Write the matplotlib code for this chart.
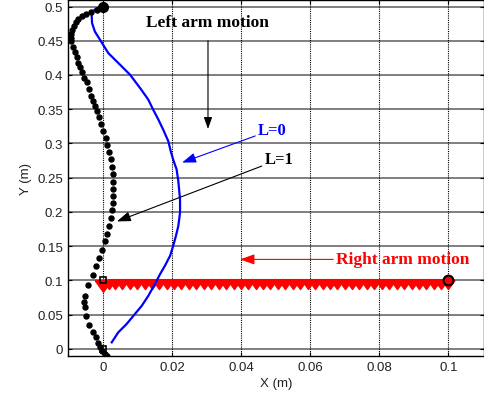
import matplotlib
matplotlib.use('Agg')
import matplotlib.pyplot as plt

# L=1 trajectory (black dots)
l1_x = [0.0, -0.0020, -0.0035, -0.0051, -0.0063, -0.0073, -0.0080, -0.00855, -0.0090, -0.0093, -0.0094,
        -0.0093, -0.0088, -0.0083, -0.0078, -0.0073, -0.0067, -0.0061, -0.0055, -0.0049, -0.0043,
        -0.0037, -0.0031, -0.0025, -0.0018, -0.0012, -0.0006, 0.0, 0.0006, 0.0011, 0.0017, 0.0022,
        0.0025, 0.0027, 0.0027, 0.0027, 0.0027, 0.0027, 0.0024, 0.0021, 0.0017, 0.0009, 0.0004,
        -0.0003, -0.0013, -0.0022, -0.0031, -0.0044, -0.0054, -0.0055, -0.0054, -0.0051, -0.0041,
        -0.0031, -0.0023, -0.0015, -0.0010, -0.0005, 0.0004, 0.0009]
l1_y = [0.500, 0.495, 0.492, 0.489, 0.486, 0.482, 0.477, 0.471, 0.465, 0.460, 0.454,
        0.449, 0.441, 0.434, 0.426, 0.4175, 0.411, 0.404, 0.396, 0.389, 0.379,
        0.369, 0.362, 0.354, 0.347, 0.339, 0.329, 0.318, 0.308, 0.297, 0.287, 0.2765,
        0.266, 0.2547, 0.244, 0.233, 0.223, 0.2134, 0.202, 0.1915, 0.1793, 0.168, 0.1575,
        0.144, 0.133, 0.121, 0.1074, 0.093, 0.0764, 0.068, 0.0603, 0.0472, 0.0345,
        0.0248, 0.0166, 0.0083, 0.002, -0.003, -0.0077, -0.0102]

# L=0 trajectory (blue line)
l0_x = [0.0, -0.0020, -0.0031, -0.0034, -0.0033, -0.0025, -0.0010, 0.0014, 0.0048, 0.0077, 0.0106,
        0.0130, 0.0144, 0.0159, 0.0173, 0.0188, 0.0195, 0.0202, 0.0212, 0.0217, 0.0222, 0.0222,
        0.0217, 0.0210, 0.0202, 0.0193, 0.0178, 0.0164, 0.0149, 0.0130, 0.0111, 0.0091, 0.0067,
        0.0043, 0.0024]
l0_y = [0.500, 0.4976, 0.4927, 0.4855, 0.4758, 0.4636, 0.4515, 0.432, 0.415, 0.4004, 0.381,
        0.364, 0.3494, 0.335, 0.3203, 0.3032, 0.2886, 0.2765, 0.262, 0.245, 0.218, 0.1988,
        0.1793, 0.1647, 0.150, 0.1356, 0.121, 0.1089, 0.0943, 0.0773, 0.0627, 0.0506, 0.036,
        0.0239, 0.0093]

# right arm (red triangles)
r_x = [0.100, 0.0979, 0.0957, 0.0936, 0.0914, 0.0893, 0.0871, 0.0850, 0.0828, 0.0807, 0.0785,
       0.0764, 0.0742, 0.0721, 0.0699, 0.0678, 0.0656, 0.0635, 0.0613, 0.0592, 0.0570, 0.0549,
       0.0527, 0.0506, 0.0484, 0.0463, 0.0441, 0.0420, 0.0398, 0.0377, 0.0355, 0.0334, 0.0312,
       0.0291, 0.0269, 0.0248, 0.0226, 0.0205, 0.0183, 0.0162, 0.0140, 0.0119, 0.0097, 0.0076,
       0.0054, 0.0033, 0.0015]
r_y = [0.100] * len(r_x)

xticks = [0, 0.02, 0.04, 0.06, 0.08, 0.1]
xticklabels = ['0', '0.02', '0.04', '0.06', '0.08', '0.1']
yticks = [0, 0.05, 0.1, 0.15, 0.2, 0.25, 0.3, 0.35, 0.4, 0.45, 0.5]
yticklabels = ['0', '0.05', '0.1', '0.15', '0.2', '0.25', '0.3', '0.35', '0.4', '0.45', '0.5']

plt.rcParams['font.family'] = ['Liberation Sans', 'DejaVu Sans']

fig = plt.figure(figsize=(4.85, 4.02), dpi=100)
ax = fig.add_axes([0.140, 0.112, 0.858, 0.886])

# grid: gray solid horizontal, black dotted vertical
for yv in yticks:
    ax.axhline(yv, color='#7f7f7f', lw=1.4, zorder=0)
for xv in xticks:
    ax.axvline(xv, color='black', lw=0.8, ls=(0, (1, 1)), zorder=0)

# triangle marker with its flat top at the data point
tri_down = [(-1, 0), (1, 0), (0, -1.4), (-1, 0)]

ax.plot(r_x, r_y, color='red', lw=1.5, marker=tri_down, ms=13, mfc='red', mec='red', zorder=2)
ax.plot([0.0], [0.1], marker=tri_down, ms=17, color='red', zorder=2)
ax.plot(l0_x, l0_y, color='#0000ff', lw=1.6, zorder=3)
ax.plot(l1_x, l1_y, ls='none', marker='o', ms=3.6, color='black', zorder=3)

ax.plot([0.0], [0.5], marker='o', ms=7, mfc='black', mec='black', zorder=4)
ax.plot([0.1], [0.1], marker='o', ms=7, mfc='red', mec='black', mew=1.5, zorder=4)
ax.plot([0.0, 0.0], [0.0, 0.1], ls='none', marker='s', ms=5, mfc='none', mec='black', mew=1.2, zorder=4)

ax.set_xlim(-0.0103, 0.1103)
ax.set_ylim(-0.0106, 0.5098)
ax.set_xticks(xticks)
ax.set_xticklabels(xticklabels)
ax.set_yticks(yticks)
ax.set_yticklabels(yticklabels)
ax.tick_params(direction='in', length=3, labelsize=9.5, top=True, right=True, colors='black',
               labelcolor='#222222')
for s in ax.spines.values():
    s.set_linewidth(1.0)
ax.set_xlabel('X (m)', fontsize=9.5, color='#222222', labelpad=3)
ax.set_ylabel('Y (m)', fontsize=9.5, color='#222222', labelpad=4)

serif = ['Liberation Serif', 'DejaVu Serif']
head = '-|>,head_length=0.7,head_width=0.25'
ax.text(0.030, 0.4777, 'Left arm motion', family=serif, weight='bold', fontsize=12.5,
        ha='center', va='center')
ax.annotate('', xy=(0.0303, 0.317), xytext=(0.0303, 0.454),
            arrowprops=dict(arrowstyle=head, color='black', lw=0.8))
ax.annotate('L=0', xy=(0.0228, 0.272), xytext=(0.0448, 0.32), family=serif, weight='bold',
            fontsize=12, color='#0000ff', ha='left', va='center',
            arrowprops=dict(arrowstyle=head, color='#0000ff', lw=0.8, shrinkA=0, shrinkB=0))
ax.annotate('L=1', xy=(0.0039, 0.186), xytext=(0.0467, 0.2765), family=serif, weight='bold',
            fontsize=12, color='black', ha='left', va='center',
            arrowprops=dict(arrowstyle=head, color='black', lw=0.8, shrinkA=0, shrinkB=0))
ax.annotate('Right arm motion', xy=(0.0396, 0.1305), xytext=(0.0674, 0.1305), family=serif,
            weight='bold', fontsize=12.5, color='red', ha='left', va='center',
            arrowprops=dict(arrowstyle=head, color='red', lw=0.8, shrinkA=0, shrinkB=0))

fig.savefig('out.png', dpi=100)
